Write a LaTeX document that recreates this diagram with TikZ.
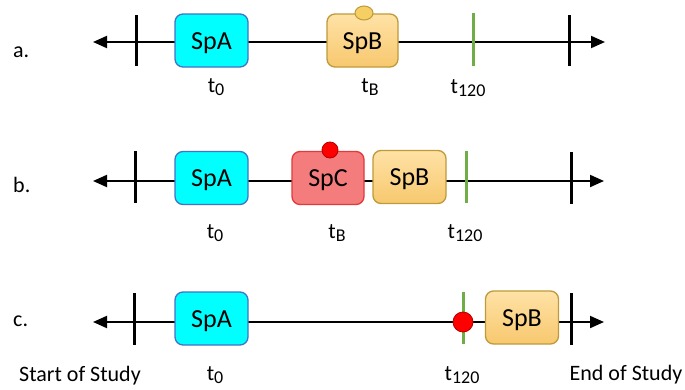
\documentclass[tikz,border=0pt]{standalone}
\usepackage{fontspec}
\setmainfont{Carlito}
\usetikzlibrary{arrows.meta,shapes.geometric}
\newcommand\tsub[1]{\raisebox{-3.5pt}{\fontsize{18}{20}\selectfont #1}}
\definecolor{spacyan}{HTML}{00FFFF}
\definecolor{spablue}{HTML}{4472C4}
\definecolor{spbtop}{HTML}{FFE2A6}
\definecolor{spbbot}{HTML}{F7C86E}
\definecolor{spbline}{HTML}{BF9A3A}
\definecolor{spcfill}{HTML}{F47C7C}
\definecolor{spcline}{HTML}{E03A3A}
\definecolor{tgreen}{HTML}{70AD47}
\definecolor{yelldot}{HTML}{F5CF63}
\begin{document}
\begin{tikzpicture}[x=1pt,y=-1pt,
  axis/.style={line width=2pt,{Triangle[length=14pt,width=12pt]}-{Triangle[length=14pt,width=12pt]}},
  tick/.style={line width=3pt},
  gtick/.style={line width=3pt,tgreen},
  box/.style={rectangle,rounded corners=8pt,minimum width=73pt,minimum height=53pt,
    line width=1.3pt,inner sep=0pt,font=\fontsize{26}{30}\selectfont,text height=17pt,text depth=0pt},
  spa/.style={box,fill=spacyan,draw=spablue},
  spb/.style={box,top color=spbtop,bottom color=spbbot,draw=spbline},
  spc/.style={box,fill=spcfill,draw=spcline},
  lbl/.style={anchor=base,font=\fontsize{22}{26}\selectfont,inner sep=0pt},
  rowlbl/.style={anchor=base west,font=\fontsize{22}{26}\selectfont,inner sep=0pt},
  reddot/.style={circle,fill=red,draw=red!70!black,line width=0.8pt,inner sep=0pt},
  yeldot/.style={ellipse,fill=yelldot,draw=spbline,line width=1pt,inner sep=0pt}
]
\useasboundingbox (0,0) rectangle (685,389);
% ---------- row a ----------
\coordinate (aL) at (93,42); \coordinate (aR) at (605,42);
\draw[axis] (aL) -- (aR);
\coordinate (aS1) at (136,15); \coordinate (aS2) at (136,66);
\coordinate (aG1) at (473,13); \coordinate (aG2) at (473,66);
\coordinate (aE1) at (569,15); \coordinate (aE2) at (569,66);
\draw[tick] (aS1) -- (aS2);
\draw[gtick] (aG1) -- (aG2);
\draw[tick] (aE1) -- (aE2);
\node[spa] (aA) at (211.5,40.5) {SpA};
\node[spb,minimum width=71pt] (aB) at (362.5,40.5) {SpB};
\node[yeldot,minimum width=18pt,minimum height=14pt] (aDot) at (364,13) {};
\node[rowlbl] (alab) at (13,57) {a.};
\node[lbl] (at0) at (216,92) {t\tsub{0}};
\node[lbl] (atB) at (370,92) {t\tsub{B}};
\node[lbl] (at120) at (468,93) {t\tsub{120}};
% ---------- row b ----------
\coordinate (bL) at (93,181); \coordinate (bR) at (604,181);
\draw[axis] (bL) -- (bR);
\coordinate (bS1) at (135,151); \coordinate (bS2) at (135,203);
\coordinate (bG1) at (466,151); \coordinate (bG2) at (466,203);
\coordinate (bE1) at (571,152); \coordinate (bE2) at (571,204);
\draw[tick] (bS1) -- (bS2);
\draw[gtick] (bG1) -- (bG2);
\draw[tick] (bE1) -- (bE2);
\node[spa] (bA) at (211.5,178) {SpA};
\node[spc,minimum width=72pt] (bC) at (328,178) {SpC};
\node[spb] (bB) at (409.5,177) {SpB};
\node[reddot,minimum size=16pt] (bDot) at (330,150) {};
\node[rowlbl] (blab) at (13,192) {b.};
\node[lbl] (bt0) at (215,238) {t\tsub{0}};
\node[lbl] (btB) at (337,238) {t\tsub{B}};
\node[lbl] (bt120) at (465,238) {t\tsub{120}};
% ---------- row c ----------
\coordinate (cL) at (93,322); \coordinate (cR) at (604,322);
\draw[axis] (cL) -- (cR);
\coordinate (cS1) at (134,293); \coordinate (cS2) at (134,345);
\coordinate (cG1) at (463,292); \coordinate (cG2) at (463,344);
\coordinate (cE1) at (571,293); \coordinate (cE2) at (571,345);
\draw[tick] (cS1) -- (cS2);
\draw[gtick] (cG1) -- (cG2);
\draw[tick] (cE1) -- (cE2);
\node[spa] (cA) at (211.5,318.5) {SpA};
\node[spb] (cB) at (522,317.5) {SpB};
\node[reddot,minimum size=20pt] (cDot) at (463,322) {};
\node[rowlbl] (clab) at (13,326) {c.};
\node[lbl] (ct0) at (215,380) {t\tsub{0}};
\node[lbl] (ct120) at (462,380) {t\tsub{120}};
\node[lbl] (start) at (80,381) {Start of Study};
\node[lbl] (end) at (626,380) {End of Study};
\end{tikzpicture}
\end{document}
